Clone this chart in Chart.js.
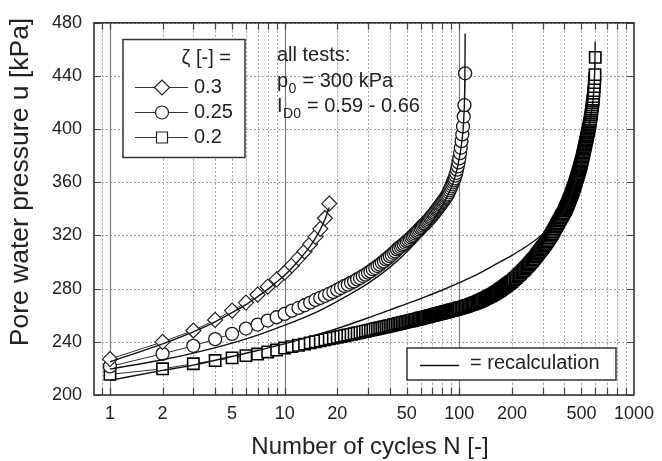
<!DOCTYPE html>
<html><head><meta charset="utf-8">
<script src="https://cdn.jsdelivr.net/npm/chart.js@4/dist/chart.umd.min.js"></script>
<style>html,body{margin:0;padding:0;background:#fff;}canvas{display:block;}</style>
</head><body>
<canvas id="c" width="662" height="461"></canvas>
<script>
const FONT = '"Liberation Sans", Arial, Helvetica, sans-serif';
const TEXT = '#222';

// ---- tick labels / grid positions ----
const xTicks = [1, 2, 5, 10, 20, 50, 100, 200, 500, 1000];
const xMinorGrid = [0.9, 2, 3, 4, 5, 6, 7, 8, 9, 20, 30, 40, 50, 60, 70, 80, 90, 200, 300, 400, 500, 600, 700, 800, 900];
const xMajorGrid = [1, 10, 100];
const yTicks = [200, 240, 280, 320, 360, 400, 440, 480];

// ---- series: zeta = 0.3 (diamonds) ----
const n03 = [1,2,3,4,5,6,7,8,9,10,11,12,13,14,15,16,17,18];
const u03 = [227,240,248.5,256.5,263.5,269.5,275.5,281.5,287,292,297.5,303,308,313.5,319,325,333,344];

// ---- series: zeta = 0.25 (circles) ----
const n025 = [1,2,3,4,5,6,7,8,9,10,11,12,13,14,15,16,17,18,19,20,21,22,23,24,25,26,27,28,29,30,
  31,32,33,34,35,36,37,38,39,40,41,42,43,44,45,46,47,48,49,50,51,52,53,54,55,56,57,58,59,60,
  61,62,63,64,65,66,67,68,69,70,71,72,73,74,75,76,77,78,79,80,81,82,83,84,85,86,87,88,89,90,
  91,92,93,94,95,96,97,98,99,100,101,102,103,104,105,106,107,108];
const u025 = [221.5,231,237,242,246,250,253,256,258.5,261,263.5,265.5,267.5,269.5,271.5,273,274.5,276,277.5,279,
  280.5,282,283,284.5,285.5,287,288,289.5,290.5,292,293,294.5,295.5,297,298,299.5,300.5,302,303,304.5,
  305.5,307,308,309.5,310.5,311.5,312.5,313.5,314.5,315.5,316.5,317.5,318.5,319.5,320.5,321.5,322.5,323.5,324.5,325.5,
  326.5,327.5,328.5,329,330,331,332,333,334,335,336,337,338,339,340,341,342,343,344,345,
  346,347,348,349,350,351,352.5,354,355.5,357,358.5,360,361.5,363,365,367,369.5,372,375,378,
  382,386,391,396,402,409.5,418,442];

// ---- series: zeta = 0.2 (squares) ----
const n02 = [1,2,3,4,5,6,7,8,9,10,11,12,13,14,15,16,17,18,19,20,21,22,23,24,25,26,27,28,29,30,
  31,32,33,34,35,36,37,38,39,40,41,42,43,44,45,46,47,48,49,50,51,52,53,54,55,56,57,58,59,60,
  61,62,63,64,65,66,67,68,69,70,71,72,73,74,75,76,77,78,79,80,81,82,83,84,85,86,87,88,89,90,
  91,92,93,94,95,96,97,98,99,100,
  102,104,106,108,110,112,114,116,118,120,122,124,126,128,130,132,134,136,138,140,
  142,144,146,148,150,152,154,156,158,160,162,164,166,168,170,172,174,176,178,180,
  182,184,186,188,190,192,194,196,198,200,
  204,208,212,216,220,224,228,232,236,240,244,248,252,256,260,264,268,272,276,280,
  284,288,292,296,300,304,308,312,316,320,324,328,332,336,340,344,348,352,356,360,
  364,368,372,376,380,384,388,392,396,400,
  402,404,406,408,410,412,414,416,418,420,422,424,426,428,430,432,434,436,438,440,442,444,446,448,450,
  452,454,456,458,460,462,464,466,468,470,472,474,476,478,480,482,484,486,488,490,492,494,496,498,500,
  502,504,506,508,510,512,514,516,518,520,522,524,526,528,530,532,534,536,538,540,542,544,546,548,550,
  552,554,556,558,560,562,564,566,568,570,572,574,576,578,580,582,584,586,588,590,592,594,596,598,600];
const u02 = [215.5,219.7,223.5,225.9,227.9,229.6,230.8,232.4,233.8,235.3,
  236.4,237.4,238.3,239.2,240,240.7,241.5,242.2,242.8,243.4,
  244,244.6,245.1,245.6,246.1,246.6,247.1,247.5,248,248.4,
  248.8,249.2,249.6,250,250.4,250.7,251.1,251.4,251.8,252.1,
  252.4,252.8,253.1,253.4,253.7,254,254.3,254.6,254.9,255.2,
  255.4,255.7,255.9,256.2,256.4,256.7,256.9,257.2,257.4,257.7,
  257.9,258.2,258.4,258.6,258.8,259.1,259.3,259.5,259.7,259.9,
  260.1,260.3,260.5,260.7,260.9,261.1,261.3,261.5,261.7,261.9,
  262.1,262.3,262.4,262.6,262.8,263,263.1,263.3,263.5,263.7,
  263.8,264,264.2,264.3,264.5,264.7,264.8,265,265.2,265.3,
  265.6,265.9,266.2,266.6,266.9,267.3,267.6,268,268.3,268.7,269,269.4,269.7,270.1,270.5,270.9,271.3,271.7,272.1,272.5,
  272.9,273.3,273.7,274.1,274.5,274.9,275.3,275.7,276.1,276.5,277,277.4,277.9,278.3,278.8,279.2,279.7,280.2,280.6,281.1,
  281.5,282,282.4,282.9,283.3,283.8,284.2,284.7,285.1,285.6,
  286.6,287.6,288.6,289.6,290.6,291.6,292.6,293.6,294.6,295.6,296.6,297.6,298.6,299.6,300.6,301.6,302.6,303.7,304.8,305.9,
  306.9,308,309,310,311,312,313,314,315,316,317.1,318.2,319.3,320.4,321.5,322.7,323.9,325.1,326.3,327.5,
  328.6,329.7,330.8,331.9,333,334.1,335.1,336.1,337.2,338.3,
  338.9,339.5,340.1,340.7,341.4,342,342.6,343.3,343.9,344.6,345.2,345.9,346.6,347.2,347.9,348.6,349.3,350,350.6,351.3,352,352.7,353.5,354.2,355,
  355.7,356.5,357.2,358,358.8,359.6,360.3,361.1,361.9,362.7,363.5,364.3,365.1,365.9,366.7,367.5,368.4,369.2,370.1,370.9,371.7,372.6,373.4,374.3,375.1,
  376.1,377,378,379,380,381,382,383,384,385,386,387,388,389,390,391,392,393,394,395,396,397,398,399,400,
  401,402,403,404.1,405.2,406.5,407.8,409.2,410.6,412,413.5,415,416.6,418.2,419.8,421.2,422.5,424.5,427,429,432,435,438,441,454];

// ---- recalculation curves ----
const rN03 = [1,2,3,4,5,6,7,8,9,10,11,12,13,14,15,16,17,18];
const rU03 = [225,238.5,247.5,255,262,268,274,279.5,285,290,295.5,301,306.5,312,318,324.5,332,341];
const rN025 = [1,2,3,5,7,10,15,20,30,40,50,60,70,80,90,95,100,103,105,106,107,107.6,108];
const rU025 = [219.5,226.5,231.5,239,245,252.5,262,270.5,284,296,307.5,319,330.5,342.5,356,365,378,389,399,408,420,440,472];
const rN02 = [1,2,3,5,7,10,15,20,30,44,60,80,100,130,160,200,250,300,350,400,450,500,540,570,585,593,597,600];
const rU02 = [211,218.5,222.5,229,233.5,238.5,245,250,258,266,272.5,279,284.5,291.5,298,305,313,321,329.5,338.5,355,374.5,395,412,424,436,448,466];

const pts = (xs, ys) => xs.map((x, i) => ({x, y: ys[i]}));

const markerDs = (label, xs, ys, style, r, order, bw, bc) => ({
  label, data: pts(xs, ys), showLine: true, borderColor: '#333', borderWidth: 1,
  pointStyle: style, pointRadius: r, pointHoverRadius: r, pointBorderColor: bc,
  pointBorderWidth: bw, pointBackgroundColor: '#fff', tension: 0, order
});
const recalcDs = (xs, ys) => ({
  label: 'recalculation', data: pts(xs, ys), showLine: true, borderColor: '#111', borderWidth: 1.4,
  pointRadius: 0, pointHoverRadius: 0, cubicInterpolationMode: 'monotone', order: 1
});

const decor = {
  id: 'decor',
  beforeDatasetsDraw(chart) {
    const {ctx, chartArea: a, scales: {x, y}} = chart;
    ctx.save();
    ctx.beginPath(); ctx.rect(a.left, a.top, a.right - a.left, a.bottom - a.top); ctx.clip();
    ctx.lineWidth = 1; ctx.strokeStyle = '#a0a0a0'; ctx.setLineDash([2, 2]);
    for (const v of xMinorGrid) {
      const p = Math.round(x.getPixelForValue(v)) + 0.5;
      ctx.beginPath(); ctx.moveTo(p, a.top); ctx.lineTo(p, a.bottom); ctx.stroke();
    }
    for (const v of yTicks) {
      const p = Math.round(y.getPixelForValue(v)) + 0.5;
      ctx.beginPath(); ctx.moveTo(a.left, p); ctx.lineTo(a.right, p); ctx.stroke();
    }
    ctx.setLineDash([]); ctx.strokeStyle = '#7a7a7a'; ctx.lineWidth = 1.2;
    for (const v of xMajorGrid) {
      const p = Math.round(x.getPixelForValue(v)) + 0.5;
      ctx.beginPath(); ctx.moveTo(p, a.top); ctx.lineTo(p, a.bottom); ctx.stroke();
    }
    ctx.restore();
  },
  afterDatasetsDraw(chart) {
    const {ctx, chartArea: a, scales: {x, y}} = chart;
    ctx.save();
    // inward ticks
    ctx.strokeStyle = '#444'; ctx.lineWidth = 1.2;
    const tl = 7;
    for (const v of xMinorGrid.concat(xMajorGrid)) {
      const p = Math.round(x.getPixelForValue(v)) + 0.5;
      ctx.beginPath(); ctx.moveTo(p, a.bottom); ctx.lineTo(p, a.bottom - tl);
      ctx.moveTo(p, a.top); ctx.lineTo(p, a.top + tl); ctx.stroke();
    }
    for (const v of yTicks) {
      const p = Math.round(y.getPixelForValue(v)) + 0.5;
      ctx.beginPath(); ctx.moveTo(a.left, p); ctx.lineTo(a.left + tl, p);
      ctx.moveTo(a.right, p); ctx.lineTo(a.right - tl, p); ctx.stroke();
    }
    // frame
    ctx.strokeStyle = '#333'; ctx.lineWidth = 1.6;
    ctx.strokeRect(a.left, a.top, a.right - a.left, a.bottom - a.top);

    // axis titles
    ctx.fillStyle = TEXT;
    ctx.textBaseline = 'alphabetic'; ctx.textAlign = 'center';
    ctx.font = '24px ' + FONT;
    ctx.fillText('Number of cycles N [-]', 370, 454);
    ctx.save();
    ctx.translate(28, 182); ctx.rotate(-Math.PI / 2);
    ctx.font = '26.5px ' + FONT;
    ctx.fillText('Pore water pressure u [kPa]', 0, 0);
    ctx.restore();

    // legend box (zeta)
    ctx.fillStyle = '#fff'; ctx.strokeStyle = '#333'; ctx.lineWidth = 1.5;
    ctx.fillRect(123, 39.5, 122, 118); ctx.strokeRect(123, 39.5, 122, 118);
    ctx.fillStyle = TEXT; ctx.textBaseline = 'middle';
    ctx.font = '20px ' + FONT;
    ctx.textAlign = 'right'; ctx.fillText('ζ [-] =', 231, 58.5);
    ctx.textAlign = 'left';
    const rows = [['0.3', 'diamond', 87.5], ['0.25', 'circle', 112.5], ['0.2', 'square', 137.5]];
    for (const [t, m, yy] of rows) {
      ctx.strokeStyle = '#333'; ctx.lineWidth = 1;
      ctx.beginPath(); ctx.moveTo(135, yy); ctx.lineTo(188, yy); ctx.stroke();
      ctx.fillStyle = '#fff'; ctx.strokeStyle = '#222'; ctx.lineWidth = 1.2;
      ctx.beginPath();
      const cx = 162;
      if (m === 'diamond') { ctx.moveTo(cx - 7.5, yy); ctx.lineTo(cx, yy - 7.5); ctx.lineTo(cx + 7.5, yy); ctx.lineTo(cx, yy + 7.5); ctx.closePath(); }
      else if (m === 'circle') { ctx.arc(cx, yy, 6.5, 0, Math.PI * 2); }
      else { ctx.rect(cx - 5.5, yy - 5.5, 11, 11); }
      ctx.fill(); ctx.stroke();
      ctx.fillStyle = TEXT; ctx.fillText(t, 194, yy);
    }

    // annotation
    ctx.font = '20px ' + FONT;
    ctx.fillText('all tests:', 277, 55);
    ctx.fillText('p', 277, 81.5);
    let w = ctx.measureText('p').width;
    ctx.font = '14px ' + FONT; ctx.fillText('0', 277 + w + 0.5, 89);
    let w2 = ctx.measureText('0').width;
    ctx.font = '20px ' + FONT; ctx.fillText(' = 300 kPa', 277 + w + w2 + 1, 81.5);
    ctx.fillText('I', 277, 106.5);
    w = ctx.measureText('I').width;
    ctx.font = '14px ' + FONT; ctx.fillText('D0', 277 + w + 0.5, 114);
    w2 = ctx.measureText('D0').width;
    ctx.font = '20px ' + FONT; ctx.fillText(' = 0.59 - 0.66', 277 + w + w2 + 1, 106.5);

    // recalculation legend
    ctx.fillStyle = '#fff'; ctx.strokeStyle = '#333'; ctx.lineWidth = 1.5;
    ctx.fillRect(407, 348, 209, 32); ctx.strokeRect(407, 348, 209, 32);
    ctx.strokeStyle = '#111'; ctx.lineWidth = 1.4;
    ctx.beginPath(); ctx.moveTo(420, 365.5); ctx.lineTo(459, 365.5); ctx.stroke();
    ctx.fillStyle = TEXT; ctx.fillText('= recalculation', 470, 363.5);
    ctx.restore();
  }
};

new Chart(document.getElementById('c'), {
  type: 'scatter',
  data: {
    datasets: [
      recalcDs(rN03, rU03),
      recalcDs(rN025, rU025),
      recalcDs(rN02, rU02),
      markerDs('0.3', n03, u03, 'rectRot', 7.5, 2, 1.2, '#222'),
      markerDs('0.25', n025, u025, 'circle', 6.5, 3, 1.3, '#1a1a1a'),
      markerDs('0.2', n02, u02, 'rect', 8, 4, 1.6, '#000')
    ]
  },
  options: {
    responsive: false, animation: false, devicePixelRatio: 1,
    layout: {padding: {top: 16, right: 24, left: 0, bottom: 0}},
    plugins: {legend: {display: false}, tooltip: {enabled: false}},
    scales: {
      x: {
        type: 'logarithmic', min: 0.81, max: 1000,
        afterBuildTicks: s => { s.ticks = xTicks.map(v => ({value: v})); },
        afterFit: s => { s.height = 66; },
        grid: {display: false, drawTicks: false}, border: {display: false},
        ticks: {callback: v => String(v), autoSkip: false, maxRotation: 0, minRotation: 0, padding: 8,
          font: {family: FONT, size: 18}, color: TEXT},
        title: {display: false}
      },
      y: {
        type: 'linear', min: 200, max: 480,
        afterBuildTicks: s => { s.ticks = yTicks.map(v => ({value: v})); },
        afterFit: s => { s.width = 94; },
        grid: {display: false, drawTicks: false}, border: {display: false},
        ticks: {padding: 12, font: {family: FONT, size: 18}, color: TEXT},
        title: {display: false}
      }
    }
  },
  plugins: [decor]
});
</script>
</body></html>
